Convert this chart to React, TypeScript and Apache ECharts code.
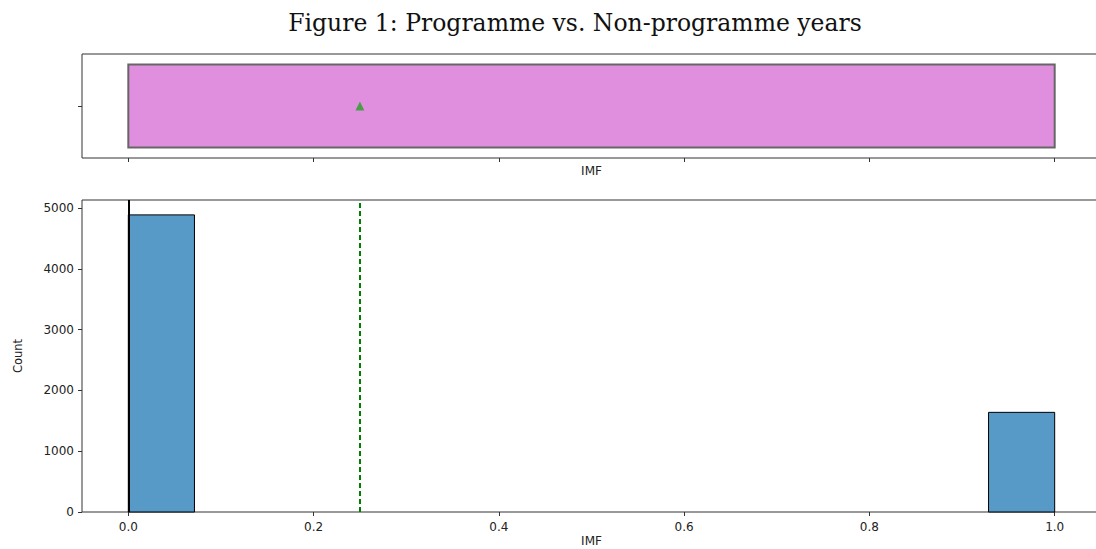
import React, { useEffect, useRef } from "react";
import * as echarts from "echarts";

const titleText = "Figure 1: Programme vs. Non-programme years";
const xTicks = [0, 0.2, 0.4, 0.6, 0.8, 1.0];
const yTicks = [0, 1000, 2000, 3000, 4000, 5000];
const binLeft = [0, 0.9286];
const binRight = [0.0714, 1.0];
const binCounts = [4890, 1640];
const boxQ1 = 0;
const boxQ3 = 1;
const meanValue = 0.25;
const medianValue = 0;

const font = "DejaVu Sans";

export default function App() {
  const ref = useRef<HTMLDivElement>(null);
  useEffect(() => {
    if (!ref.current) return;
    const chart = echarts.init(ref.current, undefined, { renderer: "svg" });
    const axisText = { color: "#222", fontFamily: font, fontSize: 12 };
    const histData = binLeft.map((l, i) => [l, binRight[i], binCounts[i]]);
    const tickStyle = { show: true, length: 4, lineStyle: { color: "#333" } };
    chart.setOption({
      animation: false,
      backgroundColor: "#fff",
      graphic: [
        {
          type: "text",
          x: 575,
          y: 11,
          style: {
            text: titleText,
            fontFamily: "DejaVu Serif",
            fontSize: 23.5,
            fill: "#111",
            textAlign: "center",
            textVerticalAlign: "top",
          },
        },
      ],
      grid: [
        { left: 82, top: 54, width: 1019, height: 104, show: true, borderColor: "#333", borderWidth: 1, backgroundColor: "transparent", outerBoundsMode: "none", containLabel: false },
        { left: 82, top: 200, width: 1019, height: 312, show: true, borderColor: "#333", borderWidth: 1, backgroundColor: "transparent", outerBoundsMode: "none", containLabel: false },
      ],
      xAxis: [
        {
          type: "value",
          gridIndex: 0,
          min: -0.05,
          max: 1.05,
          splitLine: { show: false },
          axisLine: { show: false, onZero: false },
          axisTick: { ...tickStyle, customValues: xTicks },
          axisLabel: { show: false, customValues: xTicks },
          name: "IMF",
          nameLocation: "middle",
          nameGap: 7,
          nameMoveOverlap: false,
          nameTextStyle: axisText,
        },
        {
          type: "value",
          gridIndex: 1,
          min: -0.05,
          max: 1.05,
          splitLine: { show: false },
          axisLine: { show: false, onZero: false },
          axisTick: { ...tickStyle, customValues: xTicks },
          axisLabel: { show: true, margin: 9, ...axisText, customValues: xTicks, formatter: (v: number) => v.toFixed(1) },
          name: "IMF",
          nameLocation: "middle",
          nameGap: 23,
          nameMoveOverlap: false,
          nameTextStyle: { ...axisText, lineHeight: 12 },
        },
      ],
      yAxis: [
        {
          type: "value",
          gridIndex: 0,
          min: -0.5,
          max: 0.5,
          splitLine: { show: false },
          axisLine: { show: false, onZero: false },
          axisTick: { ...tickStyle, customValues: [0] },
          axisLabel: { show: false, customValues: [0] },
        },
        {
          type: "value",
          gridIndex: 1,
          min: 0,
          max: 5135,
          splitLine: { show: false },
          axisLine: { show: false, onZero: false },
          axisTick: { ...tickStyle, customValues: yTicks },
          axisLabel: { show: true, margin: 8, ...axisText, customValues: yTicks, formatter: (v: number) => String(v) },
          name: "Count",
          nameLocation: "middle",
          nameGap: 58,
          nameMoveOverlap: false,
          nameTextStyle: { ...axisText, fontSize: 11.5 },
        },
      ],
      series: [
        {
          type: "custom",
          xAxisIndex: 0,
          yAxisIndex: 0,
          data: [[boxQ1, boxQ3, -0.4, 0.4]],
          encode: { x: [0, 1], y: [2, 3] },
          renderItem: (params: any, api: any) => {
            const p0 = api.coord([api.value(0), api.value(3)]);
            const p1 = api.coord([api.value(1), api.value(2)]);
            return {
              type: "rect",
              shape: { x: p0[0], y: p0[1], width: p1[0] - p0[0], height: p1[1] - p0[1] },
              style: { fill: "#e08fdf", stroke: "#666", lineWidth: 2 },
            };
          },
          z: 2,
        },
        {
          type: "scatter",
          xAxisIndex: 0,
          yAxisIndex: 0,
          data: [[meanValue, 0]],
          symbol: "triangle",
          symbolSize: 9,
          itemStyle: { color: "#22a022" },
          z: 5,
        },
        {
          type: "custom",
          xAxisIndex: 1,
          yAxisIndex: 1,
          data: histData,
          encode: { x: [0, 1], y: 2 },
          renderItem: (params: any, api: any) => {
            const p0 = api.coord([api.value(0), api.value(2)]);
            const p1 = api.coord([api.value(1), 0]);
            return {
              type: "rect",
              shape: { x: p0[0], y: p0[1], width: p1[0] - p0[0], height: p1[1] - p0[1] },
              style: { fill: "#5799c7", stroke: "#000", lineWidth: 1 },
            };
          },
          markLine: {
            symbol: "none",
            silent: true,
            label: { show: false },
            data: [
              { xAxis: medianValue, lineStyle: { color: "#000", width: 2, type: "solid" } },
              { xAxis: meanValue, lineStyle: { color: "#008000", width: 2, type: [5, 3] } },
            ],
          },
          z: 2,
        },
      ],
    });
    return () => chart.dispose();
  }, []);
  return (
    <div
      ref={ref}
      style={{ position: "fixed", left: 0, top: 0, width: 1096, height: 549 }}
    />
  );
}
